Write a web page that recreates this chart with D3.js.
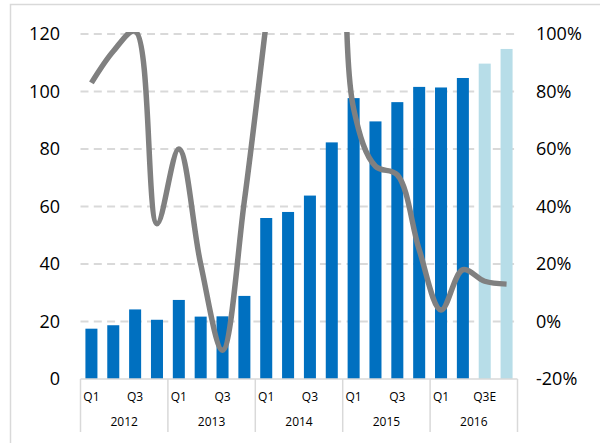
<!DOCTYPE html>
<html>
<head>
<meta charset="utf-8">
<script src="https://cdn.jsdelivr.net/npm/d3@7"></script>
<style>
  body { margin: 0; background: #fff; }
  text { font-family: "Open Sans", "Liberation Sans", sans-serif; fill: #000; }
</style>
</head>
<body>
<svg id="chart"></svg>
<script>
var width = 600, height = 443;

// data
var years = ["2012", "2013", "2014", "2015", "2016"];
var quarters = ["Q1", "Q2", "Q3", "Q4", "Q1", "Q2", "Q3", "Q4", "Q1", "Q2", "Q3", "Q4",
                "Q1", "Q2", "Q3", "Q4", "Q1", "Q2", "Q3E", "Q4E"];
var revenue = [17.5, 18.7, 24.2, 20.6, 27.5, 21.7, 21.8, 28.9, 56, 58.1, 63.8, 82.3,
               97.7, 89.6, 96.3, 101.6, 101.4, 104.7, 109.7, 114.8];
var growth = [83, 94, 101, 34, 60, 20, -10, 42, 104, 168, 193, 185,
              74, 54, 51, 25, 4, 18, 14, 13];   // percent, right axis
var leftTicks = [0, 20, 40, 60, 80, 100, 120];
var rightTicks = [-20, 0, 20, 40, 60, 80, 100];

var plot = {left: 80.5, right: 517.5, top: 34, bottom: 379};

var svg = d3.select("#chart").attr("width", width).attr("height", height);

// outer chart frame
svg.append("rect")
    .attr("x", 10.5).attr("y", 4.5)
    .attr("width", 620).attr("height", 460)
    .attr("fill", "none").attr("stroke", "#d9d9d9").attr("stroke-width", 1.5);

var x = d3.scaleBand()
    .domain(d3.range(quarters.length))
    .range([plot.left, plot.right])
    .paddingInner(0.45)
    .paddingOuter(0.225);

var yLeft = d3.scaleLinear().domain([0, 120]).range([plot.bottom, plot.top]);
var yRight = d3.scaleLinear().domain([-20, 100]).range([plot.bottom, plot.top]);

// dashed gridlines
svg.append("g")
    .selectAll("line")
    .data(leftTicks.filter(function (d) { return d > 0; }))
    .join("line")
    .attr("x1", plot.left).attr("x2", plot.right)
    .attr("y1", function (d) { return yLeft(d); })
    .attr("y2", function (d) { return yLeft(d); })
    .attr("stroke", "#d9d9d9")
    .attr("stroke-width", 2)
    .attr("stroke-dasharray", "8,5.3");

// bars
svg.append("g")
    .selectAll("rect")
    .data(revenue)
    .join("rect")
    .attr("x", function (d, i) { return x(i); })
    .attr("width", x.bandwidth())
    .attr("y", function (d) { return yLeft(d); })
    .attr("height", function (d) { return yLeft(0) - yLeft(d); })
    .attr("fill", function (d, i) { return /E$/.test(quarters[i]) ? "#b7dde8" : "#0070c0"; });

// growth line, clipped to the plot area
svg.append("clipPath").attr("id", "clip")
    .append("rect")
    .attr("x", plot.left - 10).attr("y", plot.top - 2)
    .attr("width", plot.right - plot.left + 20).attr("height", plot.bottom - plot.top + 20);

var line = d3.line()
    .x(function (d, i) { return x(i) + x.bandwidth() / 2; })
    .y(function (d) { return yRight(d); })
    .curve(d3.curveCatmullRom.alpha(0.5));

svg.append("path")
    .datum(growth)
    .attr("clip-path", "url(#clip)")
    .attr("d", line)
    .attr("fill", "none")
    .attr("stroke", "#808080")
    .attr("stroke-width", 5.5)
    .attr("stroke-linecap", "butt");

// axis line at zero
svg.append("line")
    .attr("x1", plot.left).attr("x2", plot.right)
    .attr("y1", plot.bottom).attr("y2", plot.bottom)
    .attr("stroke", "#d9d9d9").attr("stroke-width", 1.5);

// left axis labels
svg.append("g")
    .selectAll("text")
    .data(leftTicks)
    .join("text")
    .attr("x", 60)
    .attr("y", function (d) { return yLeft(d); })
    .attr("dy", "0.35em")
    .attr("text-anchor", "end")
    .style("font-size", "18px")
    .text(function (d) { return d; });

// right axis labels
svg.append("g")
    .selectAll("text")
    .data(rightTicks)
    .join("text")
    .attr("x", 536)
    .attr("y", function (d) { return yRight(d); })
    .attr("dy", "0.35em")
    .attr("text-anchor", "start")
    .style("font-size", "18px")
    .text(function (d) { return d + "%"; });

// category axis: quarter labels (every other one), years, separators
svg.append("g")
    .selectAll("text")
    .data(quarters)
    .join("text")
    .filter(function (d, i) { return i % 2 === 0; })
    .attr("x", function (d, i) { return x(i * 2) + x.bandwidth() / 2; })
    .attr("y", 397)
    .attr("dy", "0.35em")
    .attr("text-anchor", "middle")
    .style("font-size", "12px")
    .text(function (d) { return d; });

var step = x.step();
var groupEdge = function (k) { return plot.left + k * 4 * step; };

svg.append("g")
    .selectAll("line")
    .data(d3.range(years.length + 1))
    .join("line")
    .attr("x1", function (k) { return groupEdge(k); })
    .attr("x2", function (k) { return groupEdge(k); })
    .attr("y1", plot.bottom)
    .attr("y2", 432)
    .attr("stroke", "#d9d9d9").attr("stroke-width", 1.5);

svg.append("g")
    .selectAll("text")
    .data(years)
    .join("text")
    .attr("x", function (d, k) { return (groupEdge(k) + groupEdge(k + 1)) / 2; })
    .attr("y", 422)
    .attr("dy", "0.35em")
    .attr("text-anchor", "middle")
    .style("font-size", "12px")
    .text(function (d) { return d; });
</script>
</body>
</html>
